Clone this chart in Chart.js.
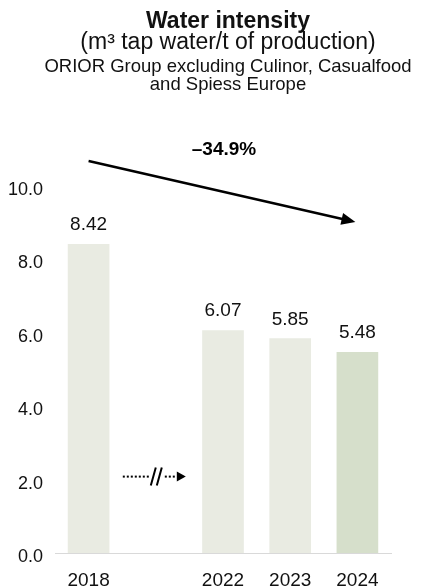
<!DOCTYPE html>
<html>
<head>
<meta charset="utf-8">
<script src="https://cdn.jsdelivr.net/npm/chart.js@4/dist/chart.umd.min.js"></script>
<style>
  html, body { margin: 0; padding: 0; background: #ffffff; }
  #wrap { width: 424px; height: 587px; position: relative; }
</style>
</head>
<body>
<div id="wrap"><canvas id="chart"></canvas></div>
<script>
// Water intensity per year (the empty category marks the break between 2018 and 2022)
const years = ['2018', '', '2022', '2023', '2024'];
const intensity = [8.42, null, 6.07, 5.85, 5.48];
const yTicks = [0, 2, 4, 6, 8, 10];
const changeLabel = '\u201334.9%';
const titleLines = [
  'Water intensity',
  '(m\u00B3 tap water/t of production)',
  'ORIOR Group excluding Culinor, Casualfood',
  'and Spiess Europe'
];

const FONT = '"Liberation Sans", Arial, Helvetica, sans-serif';
const barColors = ['#e9ebe2', '#e9ebe2', '#e9ebe2', '#e9ebe2', '#d6dfcb'];

const headerPlugin = {
  id: 'header',
  afterDraw(chart) {
    const ctx = chart.ctx;
    const cx = 228;
    ctx.save();
    ctx.fillStyle = '#111111';
    ctx.textAlign = 'center';
    ctx.textBaseline = 'alphabetic';
    ctx.font = 'bold 23px ' + FONT;
    ctx.fillText(titleLines[0], cx, 28);
    ctx.font = '23px ' + FONT;
    ctx.fillText(titleLines[1], cx, 49);
    ctx.font = '18.5px ' + FONT;
    ctx.fillText(titleLines[2], cx, 72);
    ctx.fillText(titleLines[3], cx, 90);
    ctx.restore();
  }
};

const valueLabelPlugin = {
  id: 'valueLabels',
  afterDatasetsDraw(chart) {
    const ctx = chart.ctx;
    const meta = chart.getDatasetMeta(0);
    ctx.save();
    ctx.fillStyle = '#111111';
    ctx.font = '19px ' + FONT;
    ctx.textAlign = 'center';
    ctx.textBaseline = 'middle';
    meta.data.forEach((bar, i) => {
      const v = intensity[i];
      if (v === null || v === undefined) return;
      ctx.fillText(v.toFixed(2), bar.x, bar.y - 19);
    });
    ctx.restore();
  }
};

function drawArrowHead(ctx, x, y, angle, len, half) {
  ctx.save();
  ctx.translate(x, y);
  ctx.rotate(angle);
  ctx.beginPath();
  ctx.moveTo(0, 0);
  ctx.lineTo(-len, -half);
  ctx.lineTo(-len, half);
  ctx.closePath();
  ctx.fill();
  ctx.restore();
}

const trendPlugin = {
  id: 'trend',
  afterDraw(chart) {
    const ctx = chart.ctx;
    const xs = chart.scales.x;
    const top = chart.chartArea.top;
    const x0 = xs.getPixelForValue(0);
    const x1 = xs.getPixelForValue(years.length - 1) - 2;
    const y0 = top - 25;
    const y1 = top + 36;
    const ang = Math.atan2(y1 - y0, x1 - x0);
    ctx.save();
    ctx.strokeStyle = '#000000';
    ctx.fillStyle = '#000000';
    ctx.lineWidth = 2.5;
    ctx.beginPath();
    ctx.moveTo(x0, y0);
    ctx.lineTo(x1 - 10 * Math.cos(ang), y1 - 10 * Math.sin(ang));
    ctx.stroke();
    drawArrowHead(ctx, x1, y1, ang, 14, 6);

    ctx.font = 'bold 19px ' + FONT;
    ctx.textAlign = 'center';
    ctx.textBaseline = 'middle';
    ctx.fillText(changeLabel, (x0 + x1) / 2 + 2, top - 36);

    // break marker between 2018 and 2022
    const gx = xs.getPixelForValue(1);
    const gy = chart.scales.y.getPixelForValue(2) - 3;
    ctx.fillStyle = '#000000';
    for (let x = gx - 33; x < gx - 6; x += 4) {
      ctx.fillRect(x, gy - 1, 2, 2);
    }
    for (let x = gx + 9; x < gx + 20; x += 4) {
      ctx.fillRect(x, gy - 1, 2, 2);
    }
    drawArrowHead(ctx, gx + 30, gy, 0, 9, 5);
    ctx.lineWidth = 2;
    ctx.beginPath();
    ctx.moveTo(gx - 5, gy + 9);
    ctx.lineTo(gx + 0, gy - 9);
    ctx.moveTo(gx + 1, gy + 9);
    ctx.lineTo(gx + 6, gy - 9);
    ctx.stroke();
    ctx.restore();
  }
};

new Chart(document.getElementById('chart'), {
  type: 'bar',
  data: {
    labels: years,
    datasets: [{
      data: intensity,
      backgroundColor: barColors,
      borderWidth: 0,
      barPercentage: 0.62,
      categoryPercentage: 1.0
    }]
  },
  options: {
    responsive: true,
    maintainAspectRatio: false,
    animation: false,
    layout: { padding: { top: 186, right: 33, bottom: 0, left: 0 } },
    plugins: {
      legend: { display: false },
      tooltip: { enabled: false },
      title: { display: false }
    },
    scales: {
      x: {
        grid: { display: false, drawTicks: false },
        border: { display: true, color: '#d9d9d9', width: 1 },
        ticks: {
          color: '#111111',
          font: { family: FONT, size: 19 },
          padding: 16,
          maxRotation: 0,
          autoSkip: false
        },
        afterFit(scale) { scale.height = 34; }
      },
      y: {
        min: 0,
        max: 10,
        afterBuildTicks(scale) { scale.ticks = yTicks.map(v => ({ value: v })); },
        grid: { display: false, drawTicks: false },
        border: { display: false },
        ticks: {
          color: '#111111',
          font: { family: FONT, size: 18 },
          padding: 12,
          labelOffset: 4,
          callback: v => Number(v).toFixed(1)
        },
        afterFit(scale) { scale.width = 55; }
      }
    }
  },
  plugins: [headerPlugin, valueLabelPlugin, trendPlugin]
});
</script>
</body>
</html>
